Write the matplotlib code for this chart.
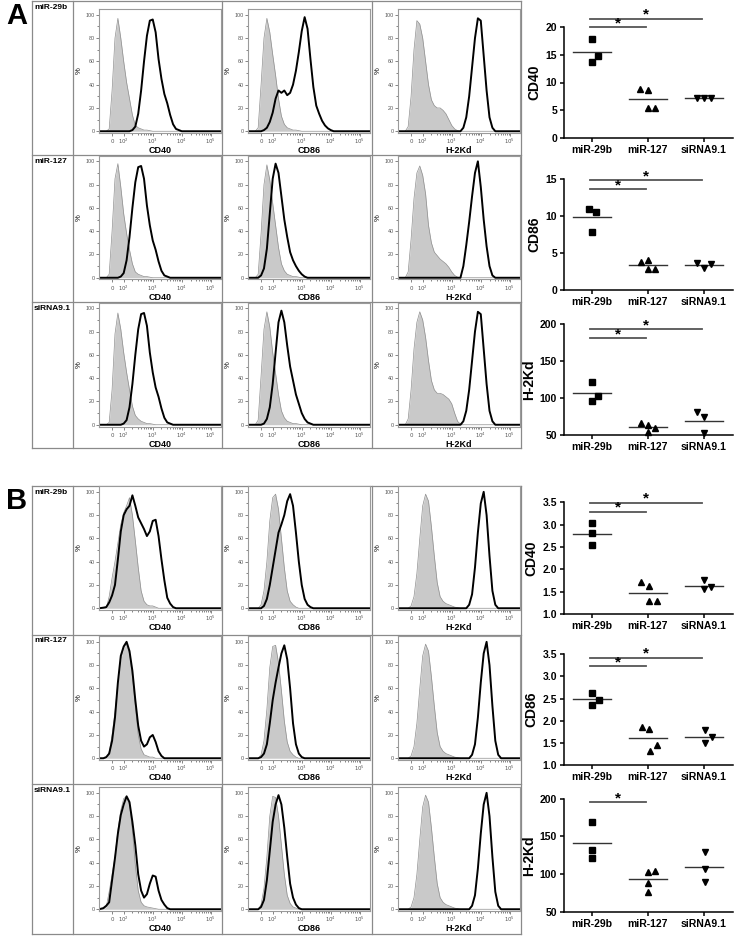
import numpy as np
import matplotlib.pyplot as plt

plt.rcParams['font.family'] = ['Liberation Sans', 'DejaVu Sans']

W, H = 740, 941

# histogram x positions (display scale: 0 -> 1.6, 10^2 -> 2, 10^3 -> 3 ...)
bins = [1.3, 1.4, 1.5, 1.6, 1.7, 1.8, 1.9, 2.0, 2.1, 2.2,
        2.3, 2.4, 2.5, 2.6, 2.7, 2.8, 2.9, 3.0, 3.1, 3.2,
        3.3, 3.4, 3.5, 3.6, 3.7, 3.8, 3.9, 4.0, 4.1, 4.2,
        4.3, 4.4, 4.5, 4.6, 4.7, 4.8]

row_names = ['miR-29b', 'miR-127', 'siRNA9.1']
markers_hist = ['CD40', 'CD86', 'H-2Kd']

# ---- panel A histograms (% of max), rows = miR-29b, miR-127, siRNA9.1
a_cd40_iso = [
    [0, 0, 2, 35, 80, 97, 80, 60, 42, 28, 14, 5, 3, 2, 1, 1, 0.5, 0, 0, 0, 0, 0, 0, 0, 0, 0, 0, 0, 0, 0, 0, 0, 0, 0, 0, 0],
    [0, 0, 3, 40, 85, 98, 78, 55, 38, 24, 12, 5, 3, 2, 1, 1, 0.5, 0, 0, 0, 0, 0, 0, 0, 0, 0, 0, 0, 0, 0, 0, 0, 0, 0, 0, 0],
    [0, 0, 2, 30, 78, 96, 82, 62, 45, 30, 16, 8, 5, 3, 2, 1, 1, 0.5, 0, 0, 0, 0, 0, 0, 0, 0, 0, 0, 0, 0, 0, 0, 0, 0, 0, 0],
]
a_cd40_stain = [
    [0, 0, 0, 0, 0, 0, 0, 0, 0, 0, 1, 4, 15, 35, 60, 82, 95, 96, 85, 62, 45, 32, 24, 14, 6, 2, 1, 0, 0, 0, 0, 0, 0, 0, 0, 0],
    [0, 0, 0, 0, 0, 0, 1, 4, 15, 35, 60, 82, 95, 96, 85, 62, 45, 32, 24, 14, 6, 2, 1, 0, 0, 0, 0, 0, 0, 0, 0, 0, 0, 0, 0, 0],
    [0, 0, 0, 0, 0, 0, 0, 1, 4, 15, 35, 60, 82, 95, 96, 85, 62, 45, 32, 24, 14, 6, 2, 1, 0, 0, 0, 0, 0, 0, 0, 0, 0, 0, 0, 0],
]
a_cd86_iso = [
    [0, 0, 3, 40, 80, 97, 85, 66, 48, 28, 13, 6, 3, 2, 1, 1, 0.5, 0, 0, 0, 0, 0, 0, 0, 0, 0, 0, 0, 0, 0, 0, 0, 0, 0, 0, 0],
    [0, 0, 3, 38, 80, 97, 84, 64, 45, 26, 12, 6, 3, 2, 1, 1, 0.5, 0, 0, 0, 0, 0, 0, 0, 0, 0, 0, 0, 0, 0, 0, 0, 0, 0, 0, 0],
    [0, 0, 4, 42, 82, 97, 84, 62, 44, 26, 12, 6, 3, 2, 1, 1, 0.5, 0, 0, 0, 0, 0, 0, 0, 0, 0, 0, 0, 0, 0, 0, 0, 0, 0, 0, 0],
]
a_cd86_stain = [
    [0, 0, 0, 0, 1, 3, 8, 16, 28, 35, 33, 35, 31, 33, 40, 52, 68, 86, 98, 88, 62, 38, 22, 15, 9, 5, 2.5, 1, 0, 0, 0, 0, 0, 0, 0, 0],
    [0, 0, 0, 2, 8, 25, 55, 85, 98, 90, 70, 50, 35, 22, 15, 10, 6, 3, 1, 0, 0, 0, 0, 0, 0, 0, 0, 0, 0, 0, 0, 0, 0, 0, 0, 0],
    [0, 0, 0, 0, 1, 5, 15, 35, 62, 88, 98, 88, 68, 50, 38, 26, 18, 10, 5, 2, 1, 0, 0, 0, 0, 0, 0, 0, 0, 0, 0, 0, 0, 0, 0, 0],
]
a_h2kd_iso = [
    [0, 0, 4, 30, 70, 95, 92, 80, 60, 40, 27, 22, 20, 20, 18, 15, 10, 5, 2, 0.5, 0, 0, 0, 0, 0, 0, 0, 0, 0, 0, 0, 0, 0, 0, 0, 0],
    [0, 0, 5, 33, 68, 90, 96, 88, 72, 45, 30, 22, 19, 16, 14, 12, 9, 5, 2, 0.5, 0, 0, 0, 0, 0, 0, 0, 0, 0, 0, 0, 0, 0, 0, 0, 0],
    [0, 0, 5, 30, 65, 88, 97, 90, 75, 55, 38, 30, 27, 27, 26, 24, 22, 18, 10, 3, 0.5, 0, 0, 0, 0, 0, 0, 0, 0, 0, 0, 0, 0, 0, 0, 0],
]
a_h2kd_stain = [
    [0, 0, 0, 0, 0, 0, 0, 0, 0, 0, 0, 0, 0, 0, 0, 0, 0, 0, 0, 0, 0, 3, 12, 30, 55, 80, 97, 95, 65, 35, 12, 3, 0, 0, 0, 0],
    [0, 0, 0, 0, 0, 0, 0, 0, 0, 0, 0, 0, 0, 0, 0, 0, 0, 0, 0, 0, 0, 10, 28, 48, 70, 90, 100, 78, 50, 27, 10, 2, 0, 0, 0, 0],
    [0, 0, 0, 0, 0, 0, 0, 0, 0, 0, 0, 0, 0, 0, 0, 0, 0, 0, 0, 0, 0, 3, 12, 30, 55, 80, 97, 95, 65, 35, 12, 3, 0, 0, 0, 0],
]

# ---- panel B histograms
b_cd40_iso = [
    [0, 0, 10, 26, 40, 56, 72, 82, 88, 95, 80, 58, 35, 15, 6, 3, 2, 2, 1, 0, 0, 0, 0, 0, 0, 0, 0, 0, 0, 0, 0, 0, 0, 0, 0, 0],
    [0, 0, 5, 20, 40, 65, 85, 95, 98, 90, 70, 45, 20, 8, 3, 2, 1, 1, 0, 0, 0, 0, 0, 0, 0, 0, 0, 0, 0, 0, 0, 0, 0, 0, 0, 0],
    [0, 2, 15, 30, 45, 68, 85, 95, 97, 90, 68, 38, 16, 6, 3, 2, 1.5, 1, 0.5, 0, 0, 0, 0, 0, 0, 0, 0, 0, 0, 0, 0, 0, 0, 0, 0, 0],
]
b_cd40_stain = [
    [0.5, 1, 5, 11, 20, 42, 66, 80, 85, 88, 97, 88, 78, 73, 68, 62, 66, 75, 76, 62, 42, 24, 9, 4, 1, 0, 0, 0, 0, 0, 0, 0, 0, 0, 0, 0],
    [0, 1, 4, 15, 35, 65, 88, 96, 100, 92, 75, 50, 28, 15, 10, 12, 18, 20, 14, 6, 2, 0, 0, 0, 0, 0, 0, 0, 0, 0, 0, 0, 0, 0, 0, 0],
    [1, 3, 6, 25, 44, 65, 81, 90, 97, 92, 75, 55, 30, 16, 10, 13, 22, 29, 28, 16, 8, 4, 1, 0, 0, 0, 0, 0, 0, 0, 0, 0, 0, 0, 0, 0],
]
b_cd86_iso = [
    [0, 0, 0, 3, 15, 40, 75, 95, 98, 85, 60, 35, 15, 6, 3, 1, 0, 0, 0, 0, 0, 0, 0, 0, 0, 0, 0, 0, 0, 0, 0, 0, 0, 0, 0, 0],
    [0, 0, 0, 3, 15, 42, 78, 96, 97, 82, 58, 32, 14, 6, 3, 1, 0, 0, 0, 0, 0, 0, 0, 0, 0, 0, 0, 0, 0, 0, 0, 0, 0, 0, 0, 0],
    [0, 0, 0, 4, 18, 45, 80, 97, 96, 80, 55, 30, 12, 5, 2, 1, 0, 0, 0, 0, 0, 0, 0, 0, 0, 0, 0, 0, 0, 0, 0, 0, 0, 0, 0, 0],
]
b_cd86_stain = [
    [0, 0, 0, 0, 2, 8, 20, 35, 50, 65, 72, 80, 92, 98, 88, 65, 40, 20, 8, 3, 1, 0, 0, 0, 0, 0, 0, 0, 0, 0, 0, 0, 0, 0, 0, 0],
    [0, 0, 0, 1, 4, 12, 30, 50, 65, 78, 90, 97, 85, 60, 30, 12, 4, 1, 0, 0, 0, 0, 0, 0, 0, 0, 0, 0, 0, 0, 0, 0, 0, 0, 0, 0],
    [0, 0, 0, 2, 8, 25, 50, 75, 90, 98, 90, 70, 45, 22, 10, 4, 1, 0, 0, 0, 0, 0, 0, 0, 0, 0, 0, 0, 0, 0, 0, 0, 0, 0, 0, 0],
]
b_h2kd_iso = [
    [0, 0, 0, 2, 10, 30, 60, 88, 98, 92, 70, 45, 22, 10, 6, 4, 3, 2, 1, 0.5, 0, 0, 0, 0, 0, 0, 0, 0, 0, 0, 0, 0, 0, 0, 0, 0],
    [0, 0, 0, 2, 10, 30, 60, 88, 98, 92, 70, 45, 22, 10, 6, 4, 3, 2, 1, 0.5, 0, 0, 0, 0, 0, 0, 0, 0, 0, 0, 0, 0, 0, 0, 0, 0],
    [0, 0, 0, 2, 10, 30, 60, 88, 98, 92, 70, 45, 22, 10, 6, 4, 3, 2, 1, 0.5, 0, 0, 0, 0, 0, 0, 0, 0, 0, 0, 0, 0, 0, 0, 0, 0],
]
b_h2kd_stain = [
    [0, 0, 0, 0, 0, 0, 0, 0, 0, 0, 0, 0, 0, 0, 0, 0, 0, 0, 0, 0, 0, 0, 0, 3, 12, 35, 65, 90, 100, 80, 45, 15, 3, 0, 0, 0],
    [0, 0, 0, 0, 0, 0, 0, 0, 0, 0, 0, 0, 0, 0, 0, 0, 0, 0, 0, 0, 0, 0, 0, 0, 3, 12, 35, 65, 90, 100, 80, 45, 15, 3, 0, 0],
    [0, 0, 0, 0, 0, 0, 0, 0, 0, 0, 0, 0, 0, 0, 0, 0, 0, 0, 0, 0, 0, 0, 0, 0, 3, 12, 35, 65, 90, 100, 80, 45, 15, 3, 0, 0],
]

# ---- dot plots (MFI), groups = miR-29b, miR-127, siRNA9.1
groups = ['miR-29b', 'miR-127', 'siRNA9.1']
a_cd40 = [[17.8, 13.8, 14.8], [8.9, 8.7, 5.3, 5.3], [7.25, 7.25, 7.25]]
a_cd86 = [[11.0, 10.6, 7.9], [3.85, 4.0, 2.8, 2.8], [3.6, 2.95, 3.5]]
a_h2kd = [[121.2, 103, 96.4], [65.8, 64, 60, 53.6], [80.7, 74.7, 52.7]]
b_cd40 = [[3.03, 2.82, 2.54], [1.72, 1.63, 1.28, 1.28], [1.76, 1.55, 1.6]]
b_cd86 = [[2.62, 2.47, 2.35], [1.85, 1.81, 1.46, 1.33], [1.79, 1.63, 1.51]]
b_h2kd = [[169.5, 132, 121], [103, 104.5, 88.5, 76.6], [129.7, 106.7, 89.8]]

# significance bars: (group from, group to, height)
a_cd40_sig = [(0, 1, 20.0), (0, 2, 21.5)]
a_cd86_sig = [(0, 1, 13.6), (0, 2, 14.8)]
a_h2kd_sig = [(0, 1, 180.7), (0, 2, 192.8)]
b_cd40_sig = [(0, 1, 3.29), (0, 2, 3.49)]
b_cd86_sig = [(0, 1, 3.22), (0, 2, 3.42)]
b_h2kd_sig = [(0, 1, 195.2)]

# horizontal spread of overlapping dots (layout only)
a_cd40_jit = [[0, 0, 0.11], [-0.14, 0, 0, 0.13], [-0.12, 0, 0.12]]
a_cd86_jit = [[-0.05, 0.07, 0], [-0.12, 0, 0, 0.12], [-0.12, 0, 0.12]]
a_h2kd_jit = [[0, 0.11, 0], [-0.12, 0, 0.12, 0], [-0.13, 0, 0]]
b_cd40_jit = [[0, 0, 0], [-0.13, 0.02, 0.02, 0.16], [0, 0, 0.13]]
b_cd86_jit = [[0, 0.13, 0], [-0.11, 0.02, 0.16, 0.04], [0.02, 0.15, 0.02]]
b_h2kd_jit = [[0, 0, 0], [0, 0.13, 0, 0], [0.02, 0.02, 0.02]]

fig = plt.figure(figsize=(W / 100, H / 100), dpi=100)


def px_axes(l, t, r, b, **kw):
    return fig.add_axes([l / W, 1 - b / H, (r - l) / W, (b - t) / H], **kw)


bg = px_axes(0, 0, W, H, zorder=-5)
bg.set_xlim(0, W)
bg.set_ylim(H, 0)
bg.axis('off')

cell_x = [73, 222, 372]
box_l, box_r = 32, 521
grid_col = '#8a8a8a'


def draw_box(top, bottom, dividers):
    for y in [top, bottom] + dividers:
        bg.plot([box_l, box_r], [y, y], color=grid_col, lw=0.9)
    for x in [box_l] + cell_x + [box_r]:
        bg.plot([x, x], [top, bottom], color=grid_col, lw=0.9)


draw_box(0.5, 448, [154.5, 301.5])
draw_box(485.5, 934, [634.5, 784])

minor_x = [np.log10(k * 10 ** n) for n in (2, 3, 4) for k in range(2, 10)]


def hist_cell(cx, zero_y, iso, stain, label):
    ax = px_axes(cx + 26, zero_y - 122, cx + 148, zero_y + 2)
    xs = [1.15] + bins + [5.35]
    yi = [0] + iso + [0]
    ys = [0] + stain + [0]
    ax.fill_between(xs, yi, color='#c9c9c9', lw=0)
    ax.plot(xs, yi, color='#8f8f8f', lw=0.5)
    ax.plot(xs, ys, color='black', lw=1.4)
    ax.set_xlim(1.15, 5.35)
    ax.set_ylim(-1.5, 105)
    ax.set_xticks([1.6, 2, 3, 4, 5])
    ax.set_xticklabels([r'$0$', r'$10^2$', r'$10^3$', r'$10^4$', r'$10^5$'])
    ax.set_xticks(minor_x, minor=True)
    ax.set_yticks([0, 20, 40, 60, 80, 100])
    ax.set_yticks([10, 30, 50, 70, 90], minor=True)
    ax.tick_params(which='both', direction='out', length=2, width=0.5,
                   colors='#555555', labelsize=3.9, pad=1)
    ax.tick_params(which='minor', length=1.2)
    for s in ax.spines.values():
        s.set_color('#9a9a9a')
        s.set_linewidth(0.8)
    ax.set_xlabel(label, fontsize=6.5, fontweight='bold', labelpad=0)
    ax.set_ylabel('%', fontsize=5.5, labelpad=2)
    return ax


def hist_panel(zero_rows, row_tops, data):
    for r in range(3):
        bg.text(34, row_tops[r] + 3, row_names[r], fontsize=6,
                fontweight='bold', va='top', ha='left')
        for c in range(3):
            iso, stain = data[c]
            hist_cell(cell_x[c], zero_rows[r], iso[r], stain[r], markers_hist[c])


hist_panel([131, 277.5, 424.5], [0.5, 154.5, 301.5],
           [(a_cd40_iso, a_cd40_stain), (a_cd86_iso, a_cd86_stain),
            (a_h2kd_iso, a_h2kd_stain)])
hist_panel([608, 758, 909], [485.5, 634.5, 784],
           [(b_cd40_iso, b_cd40_stain), (b_cd86_iso, b_cd86_stain),
            (b_h2kd_iso, b_h2kd_stain)])

bg.text(6, 2, 'A', fontsize=21, fontweight='bold', va='top', ha='left')
bg.text(6, 487, 'B', fontsize=21, fontweight='bold', va='top', ha='left')

dot_markers = ['s', '^', 'v']


def dot_panel(top, bottom, vals, jit, sig, ylab, ylim, yticks, fmt):
    ax = px_axes(564, top, 733, bottom)
    for g in range(3):
        xg = [g + j for j in jit[g]]
        ax.plot(xg, vals[g], linestyle='none', marker=dot_markers[g],
                color='black', markersize=4.6, clip_on=False, zorder=3)
        m = np.mean(vals[g])
        ax.plot([g - 0.34, g + 0.34], [m, m], color='#333333', lw=1.0)
    for g0, g1, h in sig:
        ax.plot([g0 - 0.04, g1 - 0.04], [h, h], color='#555555', lw=1.3,
                clip_on=False)
        ax.annotate('*', ((g0 + g1) / 2 - 0.04, h), xytext=(0, -2),
                    textcoords='offset points', ha='center', va='bottom',
                    fontsize=11, fontweight='bold', annotation_clip=False)
    ax.set_xlim(-0.5, 2.52)
    ax.set_ylim(*ylim)
    ax.set_yticks(yticks)
    ax.set_yticklabels([fmt % t for t in yticks])
    ax.set_xticks([0, 1, 2])
    ax.set_xticklabels(groups)
    ax.spines['top'].set_visible(False)
    ax.spines['right'].set_visible(False)
    for s in ('left', 'bottom'):
        ax.spines[s].set_linewidth(1.1)
    ax.tick_params(direction='out', length=3, width=1.1, labelsize=7.5, pad=2)
    for t in ax.get_xticklabels() + ax.get_yticklabels():
        t.set_fontweight('bold')
    ax.set_ylabel(ylab, fontsize=10, fontweight='bold', labelpad=3)


dot_panel(27.3, 137.7, a_cd40, a_cd40_jit, a_cd40_sig, 'CD40', (0, 20),
          [0, 5, 10, 15, 20], '%d')
dot_panel(179, 290, a_cd86, a_cd86_jit, a_cd86_sig, 'CD86', (0, 15),
          [0, 5, 10, 15], '%d')
dot_panel(324, 435, a_h2kd, a_h2kd_jit, a_h2kd_sig, 'H-2Kd', (50, 200),
          [50, 100, 150, 200], '%d')
dot_panel(502.3, 614, b_cd40, b_cd40_jit, b_cd40_sig, 'CD40', (1.0, 3.5),
          [1.0, 1.5, 2.0, 2.5, 3.0, 3.5], '%.1f')
dot_panel(654, 765.3, b_cd86, b_cd86_jit, b_cd86_sig, 'CD86', (1.0, 3.5),
          [1.0, 1.5, 2.0, 2.5, 3.0, 3.5], '%.1f')
dot_panel(798.7, 911.7, b_h2kd, b_h2kd_jit, b_h2kd_sig, 'H-2Kd', (50, 200),
          [50, 100, 150, 200], '%d')

fig.savefig('out.png', dpi=100)
